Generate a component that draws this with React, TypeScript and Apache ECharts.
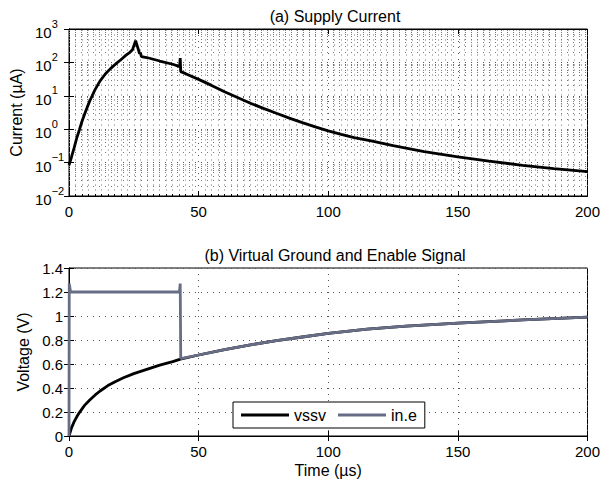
import React, { useEffect, useRef } from "react";
import * as echarts from "echarts";

// ---------- data ----------
const currentTime = [
  0, 1, 2, 3, 4, 5, 6, 7, 8, 10, 12, 14, 16, 18, 20, 22, 23.5, 24.5, 25.7, 26.5,
  27.2, 27.6, 27.9, 30, 35, 40, 42.7, 42.9, 43.1, 45, 50, 55, 60, 65, 70, 75, 80,
  85, 90, 95, 100, 105, 110, 117, 125, 137, 150, 162, 175, 187, 200,
];
const currentValues = [
  0.085, 0.15, 0.28, 0.55, 0.95, 1.7, 2.8, 4.5, 7, 15, 28, 45, 65, 90, 120, 165,
  200, 240, 450, 280, 185, 190, 150, 140, 110, 88, 75, 135, 53, 46, 31, 20.5,
  13.2, 8.9, 6.0, 4.2, 3.0, 2.15, 1.58, 1.17, 0.89, 0.7, 0.56, 0.44, 0.32, 0.214,
  0.148, 0.11, 0.083, 0.066, 0.054,
];

const vssvTime = [
  0, 1, 2, 3, 4, 6, 8, 10, 12, 15, 18, 21, 25, 30, 35, 40, 43, 50, 60, 70, 80, 90,
  100, 115, 130, 150, 175, 200,
];
const vssvValues = [
  0, 0.07, 0.12, 0.16, 0.195, 0.255, 0.3, 0.34, 0.375, 0.42, 0.455, 0.485, 0.52,
  0.555, 0.59, 0.62, 0.64, 0.675, 0.72, 0.76, 0.795, 0.825, 0.855, 0.89, 0.915,
  0.94, 0.967, 0.99,
];

const inEPulseTime = [0, 0.1, 0.6, 42.6, 42.9, 43.1];
const inEPulseValues = [0, 1.27, 1.2, 1.2, 1.27, 0.645];

const xTicks = [0, 50, 100, 150, 200];
const voltageTicks = [0, 0.2, 0.4, 0.6, 0.8, 1, 1.2, 1.4];
const logExponents = [-2, -1, 0, 1, 2, 3];
const minorMultipliers = [2, 3, 4, 5, 6, 7, 8, 9];

const seriesNames = ["vssv", "in.e"];
const titles = ["(a) Supply Current", "(b) Virtual Ground and Enable Signal"];

// ---------- derived ----------
const currentData = currentTime.map((t, i) => [t, currentValues[i]]);
const vssvData = vssvTime.map((t, i) => [t, vssvValues[i]]);
const inEData = [
  ...inEPulseTime.map((t, i) => [t, inEPulseValues[i]]),
  ...vssvTime
    .map((t, i) => [t, vssvValues[i]])
    .filter((p) => p[0] > inEPulseTime[inEPulseTime.length - 1]),
];
const minorLogLines: number[] = [];
logExponents.slice(0, -1).forEach((e) =>
  minorMultipliers.forEach((m) => minorLogLines.push(m * Math.pow(10, e)))
);

const FONT = "Liberation Sans";
const GRAY = "#676d85";

export default function App() {
  const ref = useRef<HTMLDivElement>(null);
  useEffect(() => {
    if (!ref.current) return;
    const chart = echarts.init(ref.current, undefined, { renderer: "svg" });

    const tickLabel = { color: "#000", fontSize: 15, fontFamily: FONT };
    const axisLine = { show: true, lineStyle: { color: "#000", width: 1 } };
    const tickIn = { show: true, inside: true, length: 5, lineStyle: { color: "#000" } };
    const gridDot = { show: true, lineStyle: { color: "#555", type: [1, 5], width: 1 } };

    const xBase = {
      type: "value",
      min: xTicks[0],
      max: xTicks[xTicks.length - 1],
      interval: xTicks[1] - xTicks[0],
      axisLine,
      axisTick: tickIn,
    };

    const option: any = {
      animation: false,
      backgroundColor: "#fff",
      textStyle: { fontFamily: FONT },
      title: [
        {
          text: titles[0],
          left: 330,
          top: 3,
          textAlign: "center",
          textStyle: { fontSize: 16, fontWeight: "normal", color: "#000", fontFamily: FONT },
        },
        {
          text: titles[1],
          left: 330,
          top: 242,
          textAlign: "center",
          textStyle: { fontSize: 16, fontWeight: "normal", color: "#000", fontFamily: FONT },
        },
      ],
      grid: [
        { left: 69, top: 29, width: 522, height: 167, show: true, borderColor: "#000", borderWidth: 1, backgroundColor: "#fff" },
        { left: 69, top: 268, width: 522, height: 168, show: true, borderColor: "#000", borderWidth: 1, backgroundColor: "#fff" },
      ],
      xAxis: [
        {
          ...xBase,
          gridIndex: 0,
          axisLabel: { ...tickLabel, margin: 8 },
          splitLine: gridDot,
          minorTick: { show: true, splitNumber: 20, length: 2, lineStyle: { color: "#000" } },
          minorSplitLine: { show: true, lineStyle: { color: "#aaa", type: [2, 3], width: 0.8 } },
        },
        {
          ...xBase,
          gridIndex: 0,
          position: "top",
          axisLabel: { show: false },
          splitLine: { show: false },
        },
        {
          ...xBase,
          gridIndex: 1,
          axisLabel: { ...tickLabel, margin: 8 },
          splitLine: gridDot,
          name: "Time (µs)",
          nameLocation: "middle",
          nameGap: 26,
          nameTextStyle: { fontSize: 16, color: "#000", fontFamily: FONT },
        },
        {
          ...xBase,
          gridIndex: 1,
          position: "top",
          axisLabel: { show: false },
          splitLine: { show: false },
        },
      ],
      yAxis: [
        {
          type: "log",
          logBase: 10,
          gridIndex: 0,
          min: Math.pow(10, logExponents[0]),
          max: Math.pow(10, logExponents[logExponents.length - 1]),
          splitNumber: logExponents.length - 1,
          axisLine,
          axisTick: tickIn,
          splitLine: gridDot,
          name: "Current (µA)",
          nameLocation: "middle",
          nameGap: 44,
          nameTextStyle: { fontSize: 16, color: "#000", fontFamily: FONT },
          axisLabel: {
            align: "left",
            margin: 34,
            formatter: (v: number) => {
              const e = Math.round(Math.log10(v));
              return `{b|10}{s|${e < 0 ? "−" + -e : e}}`;
            },
            rich: {
              b: { fontSize: 15, color: "#000", fontFamily: FONT, verticalAlign: "bottom", lineHeight: 22 },
              s: { fontSize: 11, color: "#000", fontFamily: FONT, verticalAlign: "top", lineHeight: 22 },
            },
          },
        },
        {
          type: "log",
          logBase: 10,
          gridIndex: 0,
          position: "right",
          min: Math.pow(10, logExponents[0]),
          max: Math.pow(10, logExponents[logExponents.length - 1]),
          splitNumber: logExponents.length - 1,
          axisLine,
          axisTick: tickIn,
          axisLabel: { show: false },
          splitLine: { show: false },
        },
        {
          type: "value",
          gridIndex: 1,
          min: voltageTicks[0],
          max: voltageTicks[voltageTicks.length - 1],
          interval: 0.2,
          axisLine,
          axisTick: tickIn,
          splitLine: gridDot,
          axisLabel: { ...tickLabel, margin: 6 },
          name: "Voltage (V)",
          nameLocation: "middle",
          nameGap: 36,
          nameTextStyle: { fontSize: 16, color: "#000", fontFamily: FONT },
        },
        {
          type: "value",
          gridIndex: 1,
          position: "right",
          min: voltageTicks[0],
          max: voltageTicks[voltageTicks.length - 1],
          interval: 0.2,
          axisLine,
          axisTick: tickIn,
          axisLabel: { show: false },
          splitLine: { show: false },
        },
      ],
      legend: {
        data: seriesNames.map((n) => ({ name: n, icon: "rect" })),
        left: 233,
        top: 402,
        orient: "horizontal",
        itemWidth: 48,
        itemHeight: 3,
        itemGap: 12,
        padding: [5, 8, 5, 8],
        backgroundColor: "#fff",
        borderColor: "#000",
        borderWidth: 1,
        borderRadius: 0,
        textStyle: { fontSize: 16, color: "#000", fontFamily: FONT },
        selectedMode: false,
      },
      series: [
        {
          name: "current",
          type: "line",
          xAxisIndex: 0,
          yAxisIndex: 0,
          data: currentData,
          showSymbol: false,
          symbol: "none",
          lineStyle: { color: "#000", width: 2.8 },
          silent: true,
          markLine: {
            silent: true,
            symbol: ["none", "none"],
            label: { show: false },
            lineStyle: { color: "#777", type: [1, 5], width: 1 },
            data: minorLogLines.map((v) => ({ yAxis: v })),
            z: 1,
          },
        },
        {
          name: seriesNames[0],
          type: "line",
          xAxisIndex: 2,
          yAxisIndex: 2,
          data: vssvData,
          showSymbol: false,
          symbol: "none",
          itemStyle: { color: "#000" },
          lineStyle: { color: "#000", width: 2.8 },
          silent: true,
        },
        {
          name: seriesNames[1],
          type: "line",
          xAxisIndex: 2,
          yAxisIndex: 2,
          data: inEData,
          showSymbol: false,
          symbol: "none",
          itemStyle: { color: GRAY },
          lineStyle: { color: GRAY, width: 2.8 },
          silent: true,
        },
      ],
    };

    chart.setOption(option);
    return () => chart.dispose();
  }, []);

  return (
    <div
      ref={ref}
      style={{ position: "fixed", left: 0, top: 0, width: 603, height: 483 }}
    />
  );
}
